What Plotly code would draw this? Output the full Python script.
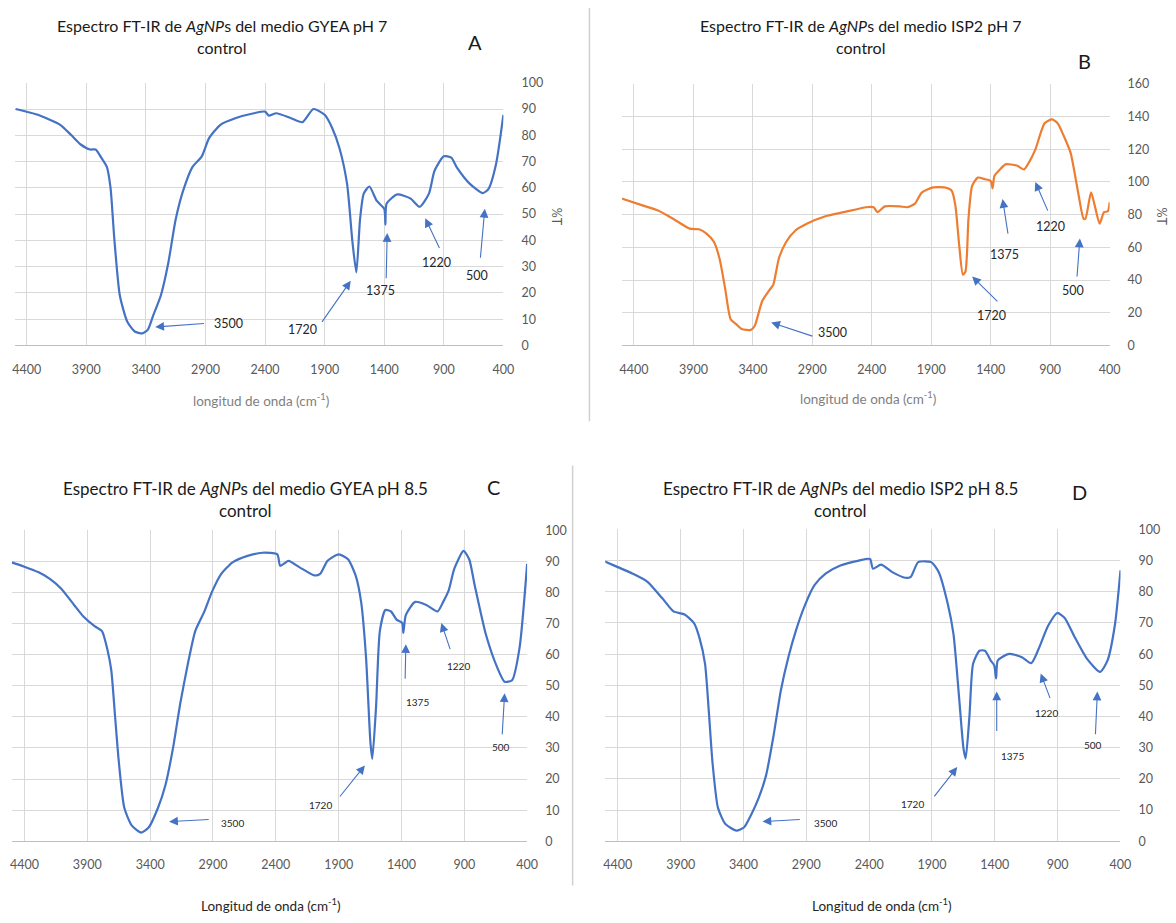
import plotly.graph_objects as go

# ---------------- data ----------------
x_ticks = [4400, 3900, 3400, 2900, 2400, 1900, 1400, 900, 400]
peak_labels = ["3500", "1720", "1375", "1220", "500"]

wn_A = [4494, 4306, 4212, 4119, 4025, 3947, 3869, 3822, 3775, 3728,
        3697, 3666, 3619, 3556, 3494, 3431, 3384, 3338, 3275, 3212,
        3150, 3087, 3009, 2931, 2869, 2775, 2650, 2494, 2400, 2369,
        2306, 2181, 2087, 1994, 1900, 1837, 1775, 1712, 1666, 1634,
        1603, 1572, 1525, 1462, 1400, 1390, 1380, 1291, 1181, 1103,
        1025, 978, 900, 837, 791, 681, 572, 525, 462, 400]
T_A = [90, 87.8, 86, 84, 80, 76.5, 74.6, 74.6, 71.5, 68,
       60, 41, 19, 9, 5.3, 4.6, 6, 11.5, 19, 31.5,
       48, 59, 68, 72, 79, 84, 86.5, 88.4, 89, 87.5,
       88.4, 86.5, 85, 90, 87.8, 82.8, 75, 61.5, 39, 27.8,
       48, 57.8, 60.5, 55, 52, 46, 54, 57.5, 56, 52.8,
       57.8, 66.5, 72, 71.5, 67.8, 61.5, 58, 59.6, 69, 87.8]

wn_B = [4509, 4322, 4197, 4072, 3931, 3853, 3790, 3728, 3681, 3634,
        3587, 3540, 3494, 3416, 3384, 3322, 3259, 3228, 3181, 3119,
        3040, 2947, 2790, 2634, 2447, 2384, 2353, 2290, 2165, 2103,
        2040, 1978, 1884, 1790, 1728, 1697, 1665, 1634, 1612, 1587,
        1556, 1509, 1447, 1400, 1384, 1369, 1322, 1275, 1181, 1119,
        1072, 1025, 947, 884, 837, 790, 728, 665, 619, 603,
        556, 525, 484, 447, 415, 400]
T_B = [90, 85.5, 82.5, 77.5, 71.4, 71, 68.4, 63.4, 53.3, 35.2,
       16, 13, 10, 9.5, 12, 27, 34, 37.2, 53.3, 63.4,
       70.4, 74.4, 79, 81.5, 84.5, 84.5, 81.5, 85, 85, 84.5,
       86.5, 93.6, 96.6, 96.6, 94.6, 85.5, 61.4, 43.3, 45.3, 77.5,
       97.6, 102.6, 101.6, 100.6, 96, 103.6, 107.6, 110.7, 110, 107.6,
       112.7, 119.7, 135.8, 138.2, 135.8, 128.8, 117.7, 93.6, 77.5, 77.5,
       93.6, 85.5, 74.4, 81.5, 82, 87.5]

wn_C = [4501, 4406, 4287, 4198, 4109, 4005, 3931, 3842, 3783, 3738,
        3709, 3679, 3649, 3605, 3545, 3471, 3412, 3338, 3278, 3219,
        3160, 3100, 3041, 2967, 2908, 2834, 2744, 2625, 2507, 2388,
        2365, 2299, 2210, 2092, 2047, 1988, 1899, 1825, 1765, 1721,
        1682, 1647, 1632, 1602, 1572, 1528, 1483, 1439, 1394, 1385,
        1365, 1291, 1202, 1113, 1068, 1024, 980, 906, 861, 817,
        728, 639, 579, 520, 460, 400]
T_C = [89.7, 88.4, 86.5, 84.4, 81.3, 76, 72.3, 69.2, 67.6, 61.3,
       55, 40.2, 25.5, 10.7, 5, 2.8, 4.4, 10.7, 18.1, 29.7,
       44.4, 57, 67.6, 74, 80.2, 86, 89.7, 91.8, 92.8, 92.3,
       88.6, 90.2, 88.1, 85.5, 86, 90.2, 92.3, 90.7, 85.5, 77,
       59.2, 31.8, 26.5, 43.4, 67.6, 74.4, 73.9, 71.3, 70.2, 67,
       72.8, 77, 76, 73.9, 77, 80.7, 87.6, 93.4, 90.7, 82.3,
       66.5, 56, 51.3, 51.8, 62.3, 89.2]

wn_D = [4503, 4400, 4282, 4164, 4046, 3957, 3869, 3795, 3751, 3706,
        3677, 3647, 3603, 3544, 3456, 3397, 3338, 3279, 3220, 3161,
        3102, 3043, 2984, 2910, 2835, 2747, 2629, 2482, 2393, 2370,
        2305, 2216, 2113, 2069, 2010, 1906, 1847, 1773, 1729, 1685,
        1649, 1632, 1602, 1573, 1522, 1478, 1434, 1405, 1390, 1376,
        1287, 1184, 1110, 1051, 977, 903, 844, 770, 666, 562,
        503, 444, 400]
T_D = [89.7, 87.9, 85.8, 83.2, 77.9, 73.7, 72.7, 70, 65.3, 56.9,
       42.2, 25.4, 10.7, 5.5, 3.4, 4.4, 8.6, 13.9, 21.2, 33.8,
       48.5, 59, 67.4, 75.8, 82.1, 85.8, 88.4, 90, 90.5, 87.4,
       88.7, 86.3, 84.5, 84.8, 89.5, 89.5, 86.3, 75.8, 66.4, 46.4,
       29.6, 26.5, 40.1, 56.9, 61.1, 61.1, 58, 56.4, 52.2, 58,
       60.1, 59, 57.1, 61.7, 69, 73.2, 71.6, 65.9, 58.5, 54.3,
       58, 69.5, 86.9]

# arrow heads, arrow tails, label positions (data units)
headx_A = [3322, 1681, 1375, 1056, 556]; heady_A = [7, 24.6, 42.8, 48.4, 52]
tailx_A = [2900, 1931, 1384, 931, 594];  taily_A = [8.4, 8.4, 25, 36.5, 32.8]
textx_A = [2706, 2087, 1431, 963, 619];  texty_A = [8.4, 5.9, 20.9, 31.5, 26.5]

headx_B = [3246, 1556, 1300, 1025, 650]; heady_B = [14, 42.2, 89.5, 100, 65.4]
tailx_B = [2887, 1331, 1253, 915, 675];  taily_B = [5.4, 26, 67.4, 81.5, 41.2]
textx_B = [2731, 1394, 1284, 900, 712];  texty_B = [8, 18, 55.7, 73, 33.8]

headx_C = [3249, 1691, 1365, 1083, 579]; heady_C = [6.3, 24.4, 63.4, 70.2, 47.6]
tailx_C = [2922, 1899, 1371, 1009, 599]; taily_C = [7, 13.9, 51.8, 61.3, 33.9]
textx_C = [2744, 2047, 1276, 949, 608];  texty_C = [6, 11.8, 44.7, 56.5, 30.4]

headx_D = [3249, 1699, 1385, 1035, 584]; heady_D = [6.3, 23.8, 48, 53.8, 48]
tailx_D = [2940, 1891, 1385, 956, 600];  taily_D = [7, 13.9, 34.9, 45.4, 33.8]
textx_D = [2748, 2055, 1258, 985, 622];  texty_D = [6, 11.8, 27.3, 41, 30.7]

titles = [
    ("Espectro FT-IR de <i>AgNP</i>s del medio GYEA pH 7", "control"),
    ("Espectro FT-IR de <i>AgNP</i>s del medio ISP2 pH 7", "control"),
    ("Espectro FT-IR de <i>AgNP</i>s del medio GYEA pH 8.5", "control"),
    ("Espectro FT-IR de <i>AgNP</i>s del medio ISP2 pH 8.5", "control"),
]
letters = ["A", "B", "C", "D"]

# ---------------- layout helpers ----------------
W, H = 1176, 923
FONT = "Lato, Open Sans, sans-serif"
BLUE = "#4472C4"
ORANGE = "#ED7D31"
GRID = "#D9D9D9"
TICKC = "#595959"


def px(x):
    return x / W


def py(y):
    return 1 - y / H


panels = [
    dict(x0=13, x1=507, y0=76, y1=343, ymax=100, dy=10, wn=wn_A, T=T_A, color=BLUE,
         hx=headx_A, hy=heady_A, tx=tailx_A, ty=taily_A, lx=textx_A, ly=texty_A,
         title_c=222, title_y=(18, 40), tfs=16, letter=(478, 35), xt=(262, 398),
         xt_text="longitud de onda (cm<sup>-1</sup>)", xt_col="#7F7F7F",
         pT=(561, 212), lfs=12.5),
    dict(x0=627, x1=1120, y0=77, y1=343, ymax=160, dy=20, wn=wn_B, T=T_B, color=ORANGE,
         hx=headx_B, hy=heady_B, tx=tailx_B, ty=taily_B, lx=textx_B, ly=texty_B,
         title_c=868, title_y=(18, 40), tfs=16, letter=(1095, 54), xt=(876, 396),
         xt_text="longitud de onda (cm<sup>-1</sup>)", xt_col="#7F7F7F",
         pT=(1172, 212), lfs=12.5),
    dict(x0=10, x1=531, y0=531, y1=847, ymax=100, dy=10, wn=wn_C, T=T_C, color=BLUE,
         hx=headx_C, hy=heady_C, tx=tailx_C, ty=taily_C, lx=textx_C, ly=texty_C,
         title_c=246, title_y=(488, 511), tfs=17, letter=(497, 487), xt=(272, 912),
         xt_text="Longitud de onda (cm<sup>-1</sup>)", xt_col="#262626",
         pT=None, lfs=10),
    dict(x0=610, x1=1131, y0=530, y1=847, ymax=100, dy=10, wn=wn_D, T=T_D, color=BLUE,
         hx=headx_D, hy=heady_D, tx=tailx_D, ty=taily_D, lx=textx_D, ly=texty_D,
         title_c=848, title_y=(488, 511), tfs=17, letter=(1090, 492), xt=(890, 912),
         xt_text="Longitud de onda (cm<sup>-1</sup>)", xt_col="#262626",
         pT=None, lfs=10),
]

fig = go.Figure()
annotations = []
layout_axes = {}

for i, p in enumerate(panels):
    n = i + 1
    xa = "x" if n == 1 else f"x{n}"
    ya = "y" if n == 1 else f"y{n}"
    xkey = "xaxis" if n == 1 else f"xaxis{n}"
    ykey = "yaxis" if n == 1 else f"yaxis{n}"

    fig.add_trace(go.Scatter(
        x=p["wn"], y=p["T"], mode="lines", xaxis=xa, yaxis=ya,
        line=dict(color=p["color"], width=2.2, shape="spline", smoothing=0.6),
        showlegend=False, hoverinfo="skip"))

    layout_axes[xkey] = dict(
        domain=[px(p["x0"]), px(p["x1"])], anchor=ya, range=[4500, 400],
        tickmode="array", tickvals=x_ticks, ticktext=[str(v) for v in x_ticks],
        showgrid=True, gridcolor=GRID, gridwidth=1, zeroline=False,
        showline=True, linecolor="#BFBFBF", linewidth=1.2,
        ticks="", ticklabelstandoff=12,
        tickfont=dict(family=FONT, size=12.5, color=TICKC), fixedrange=True)
    layout_axes[ykey] = dict(
        domain=[py(p["y1"]), py(p["y0"])], anchor=xa, side="right",
        range=[0, p["ymax"]], dtick=p["dy"], tick0=0,
        showgrid=True, gridcolor=GRID, gridwidth=1, zeroline=False,
        showline=False, ticks="", ticklabelstandoff=17,
        tickfont=dict(family=FONT, size=12.5, color=TICKC), fixedrange=True)

    # arrows and peak labels
    for k in range(len(peak_labels)):
        annotations.append(dict(
            x=p["hx"][k], y=p["hy"][k], ax=p["tx"][k], ay=p["ty"][k],
            xref=xa, yref=ya, axref=xa, ayref=ya, text="", showarrow=True,
            arrowhead=2, arrowsize=1.6, arrowwidth=1.1, arrowcolor=BLUE))
        annotations.append(dict(
            x=p["lx"][k], y=p["ly"][k], xref=xa, yref=ya, text=peak_labels[k],
            showarrow=False, font=dict(family=FONT, size=p["lfs"], color="#262626")))

    # titles
    for line, yy in zip(titles[i], p["title_y"]):
        annotations.append(dict(
            x=px(p["title_c"]), y=py(yy), xref="paper", yref="paper", text=line,
            showarrow=False, xanchor="center", yanchor="middle",
            font=dict(family=FONT, size=p["tfs"], color="#1A1A1A")))
    annotations.append(dict(
        x=px(p["letter"][0]), y=py(p["letter"][1]), xref="paper", yref="paper",
        text=letters[i], showarrow=False, xanchor="center", yanchor="middle",
        font=dict(family=FONT, size=20, color="#1A1A1A")))
    annotations.append(dict(
        x=px(p["xt"][0]), y=py(p["xt"][1]), xref="paper", yref="paper",
        text=p["xt_text"], showarrow=False, xanchor="center", yanchor="middle",
        font=dict(family=FONT, size=13.5, color=p["xt_col"])))
    if p["pT"]:
        annotations.append(dict(
            x=px(p["pT"][0]), y=py(p["pT"][1]), xref="paper", yref="paper",
            text="%T", showarrow=False, textangle=90, xanchor="center", yanchor="middle",
            font=dict(family=FONT, size=12.5, color=TICKC)))

shapes = [
    dict(type="line", xref="paper", yref="paper", x0=px(594), x1=px(594),
         y0=py(0), y1=py(420), line=dict(color="#D0D0D0", width=1.5)),
    dict(type="line", xref="paper", yref="paper", x0=px(577), x1=px(577),
         y0=py(465), y1=py(892), line=dict(color="#D0D0D0", width=1.5)),
]

fig.update_layout(
    width=W, height=H, margin=dict(l=0, r=0, t=0, b=0),
    paper_bgcolor="white", plot_bgcolor="white",
    annotations=annotations, shapes=shapes, showlegend=False,
    font=dict(family=FONT), **layout_axes)

fig.write_html("out.html", config={"displayModeBar": False})
